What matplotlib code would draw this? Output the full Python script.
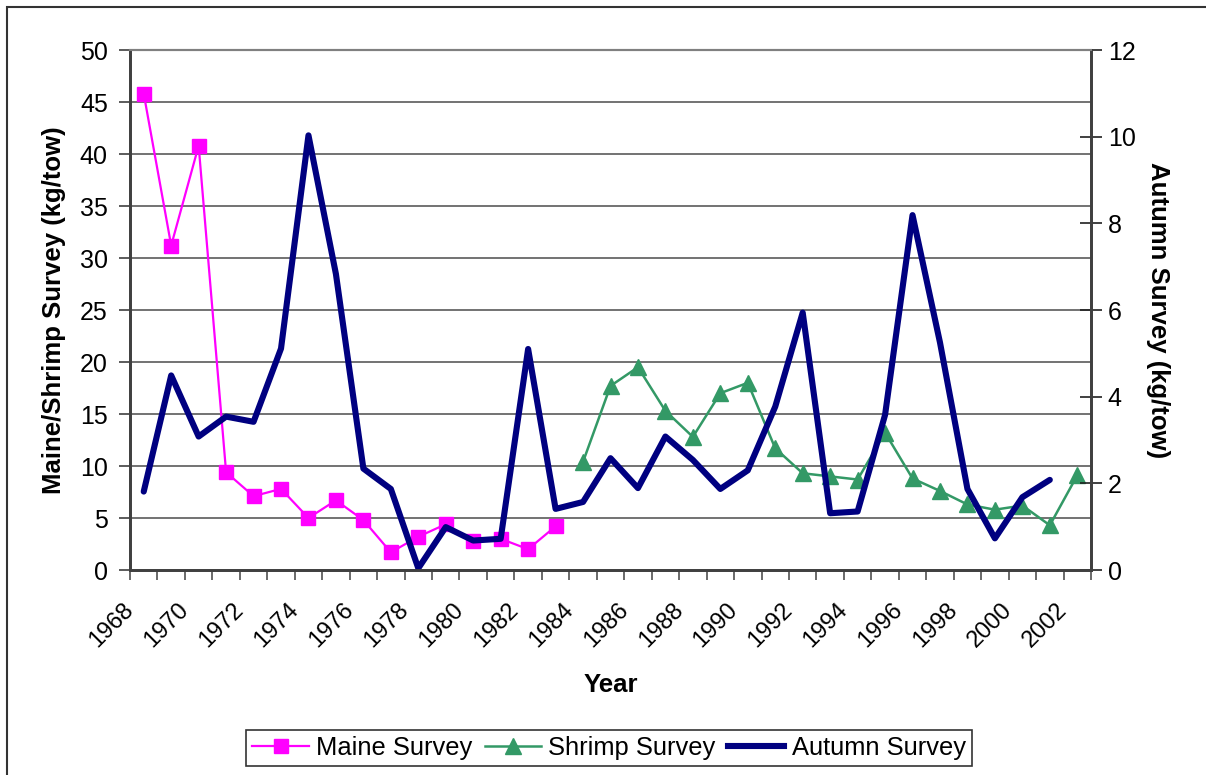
import matplotlib
matplotlib.use("Agg")
import matplotlib.pyplot as plt
import numpy as np
from matplotlib.lines import Line2D
from matplotlib.patches import Rectangle
from matplotlib.transforms import ScaledTranslation

plt.rcParams['font.family'] = ['Liberation Sans', 'DejaVu Sans']

years = list(range(1968, 2003))
maine_years = list(range(1968, 1984))
maine_vals = [45.8, 31.2, 40.8, 9.4, 7.1, 7.8, 5.0, 6.7, 4.8, 1.7, 3.2, 4.4, 2.8, 3.0, 2.0, 4.2]
shrimp_years = list(range(1984, 2003))
shrimp_vals = [10.4, 17.7, 19.5, 15.3, 12.8, 17.0, 18.0, 11.7, 9.3, 9.0, 8.7, 13.2, 8.8, 7.6, 6.3, 5.8, 6.2, 4.3, 9.1]
autumn_years = list(range(1968, 2002))
autumn_vals = [1.81, 4.49, 3.08, 3.54, 3.42, 5.11, 10.03, 6.83, 2.34, 1.87, 0.04, 0.99, 0.68, 0.72,
               5.10, 1.41, 1.57, 2.58, 1.89, 3.08, 2.54, 1.87, 2.30, 3.77, 5.94, 1.31, 1.35, 3.58,
               8.19, 5.25, 1.87, 0.73, 1.68, 2.08]
tick_labels = [str(y) for y in years if y % 2 == 0]

W, H = 1206, 775
fig = plt.figure(figsize=(W / 100, H / 100), dpi=100)
fig.patch.set_facecolor('white')
ax = fig.add_axes([130 / W, 1 - 570 / H, (1091 - 130) / W, (570 - 50) / H])
ax2 = ax.twinx()

def xi(yrs):
    return [y - years[0] for y in yrs]

MAG, GRN, NAVY = '#FF00FF', '#339966', '#000080'
ax.plot(xi(maine_years), maine_vals, color=MAG, lw=1.6, marker='s', ms=10.5,
        mec=MAG, mfc=MAG, label='Maine Survey', zorder=3)
ax.plot(xi(shrimp_years), shrimp_vals, color=GRN, lw=1.8, marker='^', ms=11.5,
        mec=GRN, mfc=GRN, label='Shrimp Survey', zorder=3)
ax2.plot(xi(autumn_years), autumn_vals, color=NAVY, lw=4.4, solid_joinstyle='round',
         solid_capstyle='round', label='Autumn Survey')

ax.set_xlim(-0.5, len(years) - 0.5)
ax.set_ylim(0, 50)
ax2.set_ylim(0, 12)
ax.set_yticks(np.arange(0, 51, 5))
ax2.set_yticks(np.arange(0, 13, 2))
for v in np.arange(5, 51, 5):
    ax.axhline(v, color='#5a5a5a', lw=1.2, zorder=1)

ax.set_xticks(np.arange(-0.5, len(years), 1), minor=True)
ax.set_xticks([i for i, y in enumerate(years) if y % 2 == 0])
ax.set_xticklabels(tick_labels, rotation=45, ha='right', va='top', rotation_mode='anchor')
ax.tick_params(axis='x', which='major', length=0, pad=21, labelsize=17)
ax.tick_params(axis='x', which='minor', length=7, width=1.2, direction='out', color='#505050')
ax.tick_params(axis='y', length=8, width=1.2, direction='out', labelsize=18, pad=8, color='#404040')
ax2.tick_params(axis='y', length=16, width=1.2, direction='inout', labelsize=18, pad=4, color='#202020')
offset = ScaledTranslation(-21 / 100, 0, fig.dpi_scale_trans)
for t in ax.xaxis.get_majorticklabels():
    t.set_transform(t.get_transform() + offset)

for a in (ax, ax2):
    for s in a.spines.values():
        s.set_color('#404040')
        s.set_linewidth(2)
    a.spines['top'].set_color('#808080')
    a.spines['top'].set_linewidth(1.5)

ax.set_ylabel('Maine/Shrimp Survey (kg/tow)', fontsize=18.5, fontweight='bold', labelpad=10)
ax2.set_ylabel('Autumn Survey (kg/tow)', fontsize=18.5, fontweight='bold', rotation=270, labelpad=25)
ax.set_xlabel('Year', fontsize=18.5, fontweight='bold', labelpad=15)

handles = [Line2D([], [], color=MAG, lw=1.6, marker='s', ms=9.5),
           Line2D([], [], color=GRN, lw=1.8, marker='^', ms=11),
           Line2D([], [], color=NAVY, lw=4.4)]
leg = fig.legend(handles, ['Maine Survey', 'Shrimp Survey', 'Autumn Survey'], loc='center',
                 bbox_to_anchor=(609 / W, 1 - 748 / H), ncol=3, fontsize=18.4, frameon=True,
                 fancybox=False, edgecolor='black', handlelength=2.2, handletextpad=0.28,
                 columnspacing=0.5, borderpad=0.25, borderaxespad=0)
leg.get_frame().set_linewidth(1.2)

fig.add_artist(Rectangle((7 / W, -0.1), 1.2, (1 - 7 / H) + 0.1, transform=fig.transFigure,
                         fill=False, edgecolor='#333333', lw=1.5))

fig.savefig('out.png', dpi=100, facecolor='white')
